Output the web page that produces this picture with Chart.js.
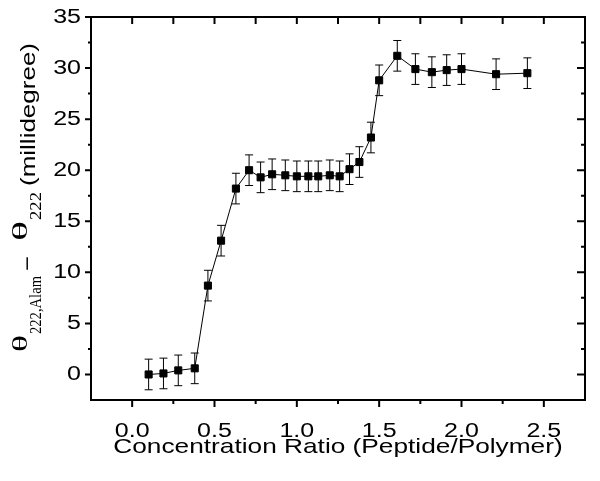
<!DOCTYPE html>
<html><head><meta charset="utf-8">
<script src="https://cdn.jsdelivr.net/npm/chart.js@4.4.0/dist/chart.umd.min.js"></script>
<style>html,body{margin:0;padding:0;background:#fff;}#wrap{width:600px;height:481px;}</style>
</head><body>
<div id="wrap"><canvas id="c" width="600" height="481"></canvas></div>
<script>
// ---- data ----
const ratio = [0.10, 0.19, 0.28, 0.38, 0.46, 0.54, 0.63, 0.71, 0.78, 0.85, 0.93, 1.00, 1.07, 1.13, 1.20, 1.26, 1.32, 1.38, 1.45, 1.50, 1.61, 1.72, 1.82, 1.91, 2.00, 2.21, 2.40];
const signal = [0.0, 0.1, 0.4, 0.6, 8.7, 13.1, 18.2, 20.0, 19.3, 19.6, 19.5, 19.4, 19.4, 19.4, 19.5, 19.4, 20.1, 20.8, 23.2, 28.8, 31.2, 29.9, 29.6, 29.8, 29.9, 29.4, 29.5];
const errorBar = [1.5, 1.5, 1.5, 1.5, 1.5, 1.5, 1.5, 1.5, 1.5, 1.5, 1.5, 1.5, 1.5, 1.5, 1.5, 1.5, 1.5, 1.5, 1.5, 1.5, 1.5, 1.5, 1.5, 1.5, 1.5, 1.5, 1.5];
const xTickLabels = ['0.0', '0.5', '1.0', '1.5', '2.0', '2.5'];
const yTickLabels = ['0', '5', '10', '15', '20', '25', '30', '35'];
const xTitle = 'Concentration Ratio (Peptide/Polymer)';

// ---- rendering ----
const canvas = document.getElementById('c');
const ctx0 = canvas.getContext('2d');
const rawFill = ctx0.fillText.bind(ctx0);
const STRETCH = 1.25;
ctx0.fillText = function (text, x, y) {
  this.save();
  this.translate(x, y);
  this.scale(STRETCH, 1);
  rawFill(text, 0, 0);
  this.restore();
};

function labelFor(list, v) {
  const hit = list.find(s => Math.abs(parseFloat(s) - v) < 1e-6);
  return hit === undefined ? '' : hit;
}
const isMajorX = v => labelFor(xTickLabels, v) !== '' ;
const isMajorY = v => labelFor(yTickLabels, v) !== '' ;

const errorBars = {
  id: 'errorBars',
  beforeDatasetsDraw(chart) {
    const {ctx, scales: {x, y}} = chart;
    ctx.save();
    ctx.strokeStyle = '#000';
    ctx.lineWidth = 1;
    ctx.beginPath();
    ratio.forEach((r, i) => {
      const px = x.getPixelForValue(r);
      const top = y.getPixelForValue(signal[i] + errorBar[i]);
      const bot = y.getPixelForValue(signal[i] - errorBar[i]);
      ctx.moveTo(px, top); ctx.lineTo(px, bot);
      ctx.moveTo(px - 4, top); ctx.lineTo(px + 4, top);
      ctx.moveTo(px - 4, bot); ctx.lineTo(px + 4, bot);
    });
    ctx.stroke();
    ctx.restore();
  }
};

const frameTicks = {
  id: 'frameTicks',
  afterDraw(chart) {
    const {ctx, chartArea: a, scales: {x, y}} = chart;
    ctx.save();
    ctx.strokeStyle = '#000';
    ctx.lineWidth = 2;
    ctx.beginPath();
    x.ticks.forEach(t => {
      const px = x.getPixelForValue(t.value);
      if (px <= a.left + 1 || px >= a.right - 1) return;
      const major = isMajorX(t.value);
      ctx.moveTo(px, a.bottom); ctx.lineTo(px, a.bottom + (major ? 7 : 4));
      ctx.moveTo(px, a.top); ctx.lineTo(px, a.top + 7);
    });
    y.ticks.forEach(t => {
      const py = y.getPixelForValue(t.value);
      if (py <= a.top + 1 || py >= a.bottom - 1) {
        if (!isMajorY(t.value)) return;
      }
      const major = isMajorY(t.value);
      ctx.moveTo(a.left, py); ctx.lineTo(a.left - (major ? 6 : 3), py);
      ctx.moveTo(a.right, py); ctx.lineTo(a.right - (major ? 8 : 4), py);
    });
    ctx.stroke();
    ctx.strokeRect(a.left, a.top, a.right - a.left, a.bottom - a.top);

    // y-axis title with sub-scripts
    const parts = [
      {text: 'θ', font: '20px "Liberation Serif"', len: 17, gap: 0, dy: 0},
      {text: '222,Alam', font: '17px "Liberation Serif"', len: 58, gap: 1, dy: 14},
      {text: '\u2212', font: '21px "Liberation Sans"', len: 15, gap: 5, dy: 7},
      {text: 'θ', font: '20px "Liberation Serif"', len: 20, gap: 15, dy: 0},
      {text: '222', font: '17px "Liberation Serif"', len: 28, gap: 1, dy: 14},
      {text: '(millidegree)', font: '20px "Liberation Sans"', len: 143, gap: 6, dy: 8}
    ];
    ctx.fillStyle = '#000';
    ctx.textAlign = 'left';
    ctx.textBaseline = 'alphabetic';
    ctx.translate(27, 352);
    ctx.rotate(-Math.PI / 2);
    let pos = 0;
    parts.forEach(p => {
      pos += p.gap;
      ctx.font = p.font;
      const w = ctx.measureText(p.text).width;
      ctx.save();
      ctx.translate(pos, p.dy);
      ctx.scale(p.len / w, 1);
      rawFill(p.text, 0, 0);
      ctx.restore();
      pos += p.len;
    });
    ctx.restore();
  }
};

Chart.defaults.font.family = '"Liberation Sans", Arial, sans-serif';
Chart.defaults.color = '#000';

new Chart(ctx0, {
  type: 'line',
  data: {
    datasets: [{
      data: ratio.map((r, i) => ({x: r, y: signal[i]})),
      borderColor: '#000',
      borderWidth: 1,
      backgroundColor: '#000',
      pointStyle: 'rect',
      pointRadius: 5,
      pointBorderWidth: 1,
      pointBackgroundColor: '#000',
      pointBorderColor: '#000',
      tension: 0,
      fill: false
    }]
  },
  options: {
    responsive: false,
    animation: false,
    events: [],
    layout: {padding: {top: 17, right: 15, left: 0, bottom: 0}},
    plugins: {legend: {display: false}, tooltip: {enabled: false}},
    scales: {
      x: {
        type: 'linear', min: -0.25, max: 2.75,
        afterFit(s) { s.height = 81; s.paddingLeft = 0; s.paddingRight = 0; },
        grid: {display: false, drawTicks: false},
        border: {display: false},
        ticks: {
          stepSize: 0.25, autoSkip: false, maxRotation: 0, padding: 19,
          font: {size: 20}, color: '#000',
          callback: v => labelFor(xTickLabels, v)
        },
        title: {display: true, text: xTitle, font: {size: 21}, color: '#000', padding: {top: 0, bottom: 21}}
      },
      y: {
        type: 'linear', min: -2.5, max: 35,
        afterFit(s) { s.width = 91; s.paddingTop = 0; s.paddingBottom = 0; },
        grid: {display: false, drawTicks: false},
        border: {display: false},
        ticks: {
          stepSize: 2.5, autoSkip: false, padding: 10,
          font: {size: 20}, color: '#000',
          callback: v => labelFor(yTickLabels, v)
        }
      }
    }
  },
  plugins: [errorBars, frameTicks]
});
</script>
</body></html>
